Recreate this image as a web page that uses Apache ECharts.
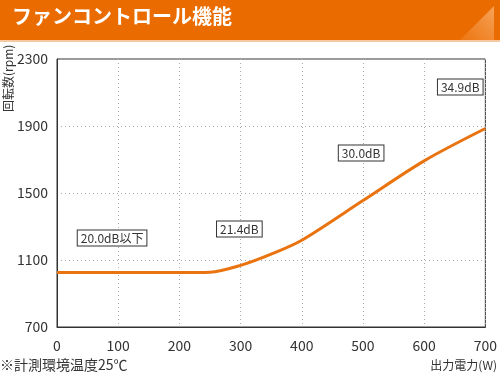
<!DOCTYPE html>
<html>
<head>
<meta charset="utf-8">
<script src="https://cdn.jsdelivr.net/npm/echarts@6/dist/echarts.min.js"></script>
<style>
  html, body { margin: 0; padding: 0; background: #fff; }
  #chart { width: 500px; height: 378px; }
</style>
</head>
<body>
<div id="chart"></div>
<script>
// output power (W) vs fan speed (rpm)
var powerW = [0, 200, 250, 300, 350, 400, 500, 600, 700];
var fanRpm = [1025, 1025, 1027, 1068, 1135, 1218, 1455, 1692, 1885];

// noise level annotations, placed in data units
var noiseText = ["20.0dB以下", "21.4dB", "30.0dB", "34.9dB"];
var noiseX = [90, 298, 497, 659];
var noiseY = [1231, 1285, 1739, 2133];

var font = "'Noto Sans CJK JP', sans-serif";
var orange = "#e8730f";

var chartDom = document.getElementById("chart");
var myChart = echarts.init(chartDom);

var option = {
  animation: false,
  textStyle: { fontFamily: font },
  grid: {
    left: 57,
    right: 14,
    top: 59,
    bottom: 51,
    show: true,
    borderColor: "#333",
    borderWidth: 1,
  },
  graphic: [
    {
      // header banner
      type: "rect",
      shape: { x: 0, y: 0, width: 500, height: 40 },
      style: { fill: "#ea6c00" },
    },
    {
      type: "polygon",
      shape: { points: [[460, 40], [494, 6], [494, 40]] },
      style: {
        fill: new echarts.graphic.LinearGradient(0, 1, 1, 0, [
          { offset: 0, color: "rgba(255,180,120,0.15)" },
          { offset: 1, color: "rgba(255,200,150,0.6)" },
        ]),
      },
    },
    {
      type: "rect",
      shape: { x: 0, y: 40, width: 500, height: 2 },
      style: { fill: "#f7c9a0" },
    },
    {
      type: "text",
      left: 12,
      top: 6,
      style: {
        text: "ファンコントロール機能",
        fill: "#fff",
        font: "bold 20px " + font,
      },
    },
    {
      // y axis name, rotated
      type: "text",
      x: 2,
      y: 112,
      rotation: Math.PI / 2,
      style: {
        text: "回転数(rpm)",
        fill: "#333",
        font: "12px " + font,
        textVerticalAlign: "top",
      },
    },
    {
      type: "text",
      right: 3,
      top: 359,
      style: { text: "出力電力(W)", fill: "#333", font: "12px " + font },
    },
    {
      type: "text",
      left: 0,
      top: 358,
      style: { text: "※計測環境温度25℃", fill: "#333", font: "14px " + font },
    },
  ],
  xAxis: {
    type: "value",
    min: 0,
    max: 700,
    interval: 100,
    axisLine: { show: true, lineStyle: { color: "#333" } },
    axisTick: { show: false },
    axisLabel: {
      color: "#333",
      fontSize: 14,
      margin: 12,
      fontFamily: font,
      formatter: function (v) {
        return String(v);
      },
    },
    splitLine: {
      show: true,
      lineStyle: { color: "#aaa", type: [1, 3], width: 1 },
    },
  },
  yAxis: {
    type: "value",
    min: 700,
    max: 2300,
    interval: 400,
    axisLine: { show: true, lineStyle: { color: "#333" } },
    axisTick: { show: false },
    axisLabel: {
      color: "#333",
      fontSize: 14,
      margin: 9,
      fontFamily: font,
      formatter: function (v) {
        return String(v);
      },
    },
    splitLine: {
      show: true,
      lineStyle: { color: "#aaa", type: [1, 3], width: 1 },
    },
  },
  series: [
    {
      type: "line",
      data: powerW.map(function (x, i) {
        return [x, fanRpm[i]];
      }),
      smooth: 0.3,
      showSymbol: false,
      lineStyle: { color: orange, width: 3 },
      markPoint: {
        symbol: "circle",
        symbolSize: 1,
        itemStyle: { color: "rgba(0,0,0,0)" },
        silent: true,
        label: {
          show: true,
          position: "inside",
          color: "#333",
          fontSize: 12,
          fontFamily: font,
          backgroundColor: "#fff",
          borderColor: "#333",
          borderWidth: 1,
          padding: [2, 3, 1, 3],
          formatter: function (p) {
            return p.name;
          },
        },
        data: noiseText.map(function (t, i) {
          return { name: t, coord: [noiseX[i], noiseY[i]] };
        }),
      },
    },
  ],
};
myChart.setOption(option);
</script>
</body>
</html>
